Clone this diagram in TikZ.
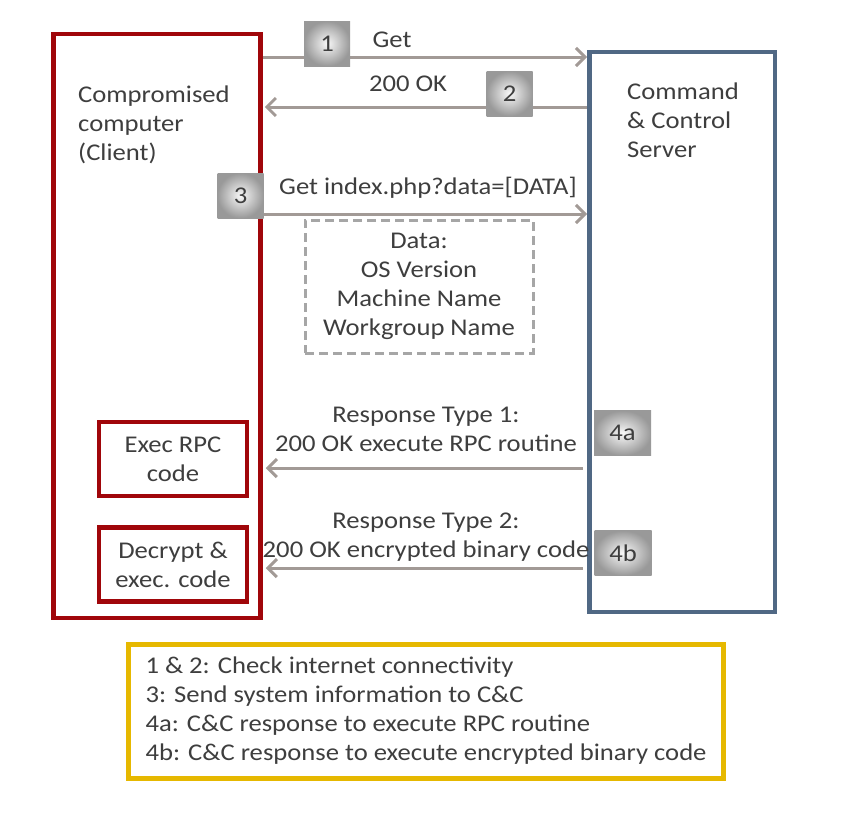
\documentclass[tikz,border=0pt]{standalone}
\usepackage{fontspec}
\setmainfont[FakeStretch=1.11]{Carlito}
\usetikzlibrary{arrows.meta, positioning}
\definecolor{clientred}{RGB}{160,6,10}
\definecolor{serverblue}{RGB}{80,104,132}
\definecolor{arrowgray}{RGB}{162,154,150}
\definecolor{dashgray}{RGB}{166,166,166}
\definecolor{notegold}{RGB}{230,184,0}
\definecolor{txt}{RGB}{62,62,62}
\tikzstyle{host}=[draw, line width=4.5pt, inner sep=0pt]
\tikzstyle{action}=[draw=clientred, line width=4.5pt, align=center, minimum width=148pt, minimum height=74pt]
\tikzstyle{numbox}=[inner color=white!95!gray, outer color=gray!80, text=txt, minimum width=46pt, minimum height=45pt, inner sep=0pt]
\tikzstyle{msg}=[draw=arrowgray, line width=3pt, -{Straight Barb[length=9pt,width=18pt]}]
\tikzstyle{lbl}=[align=center, text=txt, inner sep=0pt]

\begin{document}
\begin{tikzpicture}[x=1pt, y=-1pt, font=\fontsize{24}{29}\selectfont, text=txt]
        \useasboundingbox (0,0) rectangle (846,827);

        % Hosts
        \node[host, draw=clientred, minimum width=207pt, minimum height=584pt] (client) at (157,326) {};
        \node[host, draw=serverblue, minimum width=185.5pt, minimum height=560pt] (server) at (682,332) {};
        \node[lbl, align=left, anchor=west] (clientname) at (78,124.5) {Compromised\\computer\\(Client)};
        \node[lbl, align=left, anchor=west] (servername) at (627,120) {Command\\\& Control\\Server};

        % Levels of the messages
        \coordinate (y1) at (0,57);
        \coordinate (y2) at (0,107);
        \coordinate (y3) at (0,214);
        \coordinate (y4a) at (0,468);
        \coordinate (y4b) at (0,568);

        %% Messages
        \draw[msg] (client.east |- y1) -- (server.west |- y1);
        \draw[msg, shorten >=2pt] (server.west |- y2) -- (client.east |- y2);
        \draw[msg] (client.east |- y3) -- (server.west |- y3);
        \draw[msg, shorten <=4pt, shorten >=3pt] (server.west |- y4a) -- (client.east |- y4a);
        \draw[msg, shorten <=4pt, shorten >=3pt] (server.west |- y4b) -- (client.east |- y4b);

        \node[lbl] (lget) at (392,40) {Get};
        \node[lbl] (lok) at (408,84) {200 OK};
        \node[lbl] (lindex) at (428,188) {Get index.php?data=[DATA]};
        \node[lbl] (lresp1) at (426,429) {Response Type 1:\\200 OK execute RPC routine};
        \node[lbl] (lresp2) at (426,537) {Response Type 2:\\200 OK encrypted binary code};

        % Sent data
        \node[lbl, draw=dashgray, line width=3pt, dash pattern=on 9pt off 5pt, minimum width=228pt, minimum height=133pt] (data) at (419,286.5) {Data:\\OS Version\\Machine Name\\Workgroup Name};

        % Client actions
        \node[action] (execrpc) at (173,459) {Exec RPC\\code};
        \node[action] (decrypt) at (173,564.5) {Decrypt \&\\exec. code};

        %% Step numbers
        \foreach \n/\x/\y/\w in {1/327/43.5/46, 2/509.5/93.5/46, 3/240.5/195.5/46, 4a/622.5/433/57, 4b/623/553/57}
                \node[numbox, minimum width=\w pt] (n\n) at (\x,\y) {\n};

        % Legend
        \node[draw=notegold, line width=5pt, align=left, minimum width=595pt, minimum height=134pt] (legend) at (426,711)
                {1 \& 2: Check internet connectivity\\3: Send system information to C\&C\\4a: C\&C response to execute RPC routine\\4b: C\&C response to execute encrypted binary code};

    \end{tikzpicture}
\end{document}
